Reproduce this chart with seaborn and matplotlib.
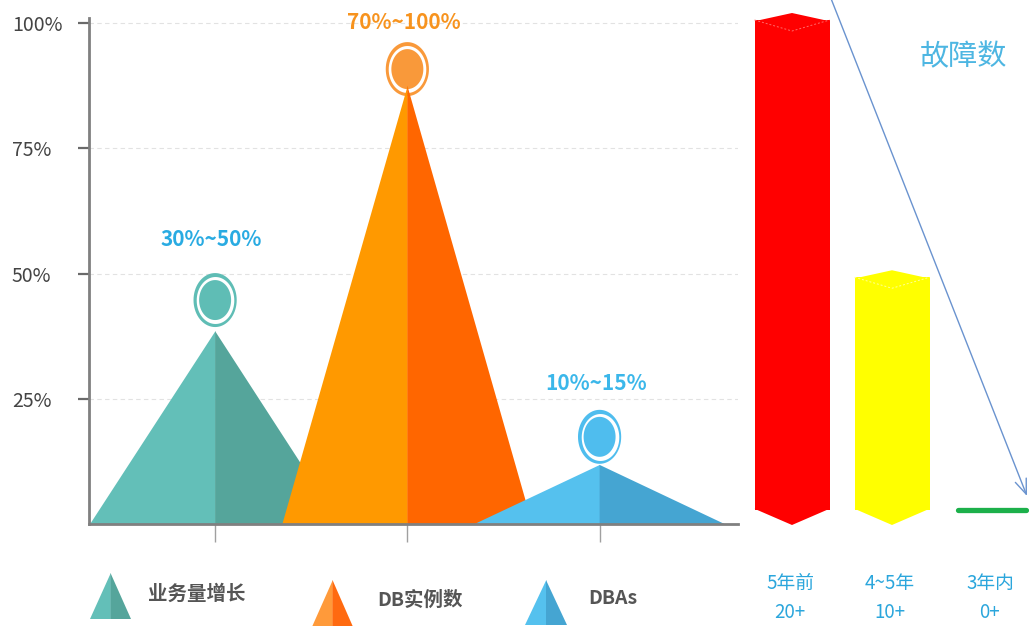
import numpy as np
import pandas as pd
import matplotlib
matplotlib.use("Agg")
import matplotlib.pyplot as plt
from matplotlib.path import Path
import seaborn as sns

# ---------------- data ----------------
categories = ["业务量增长", "DB实例数", "DBAs"]
peak_values = [38.5, 87.5, 11.8]          # triangle peaks (%)
marker_values = [44.7, 90.8, 17.4]        # circle badge positions (%)
range_labels = ["30%~50%", "70%~100%", "10%~15%"]
range_label_y = [56.7, 100.2, 28.1]
y_ticks = [25, 50, 75, 100]
y_tick_labels = ["25%", "50%", "75%", "100%"]

fault_periods = ["5年前", "4~5年", "3年内"]
fault_labels = ["20+", "10+", "0+"]
fault_values = [20, 9.5, 0]
fault_title = "故障数"

# ---------------- style ----------------
sns.set_theme(style="white")
plt.rcParams["font.family"] = ["Noto Sans CJK SC", "DejaVu Sans"]

light = ["#63bfb8", "#ff9900", "#55c1ee"]
dark = ["#55a59b", "#ff6600", "#45a5d2"]
ring_cols = ["#5fbdb5", "#f9993a", "#4fbdee"]
label_cols = ["#29abe2", "#f7931e", "#3bb7ea"]
legend_light = ["#63bfb8", "#ff9a3a", "#55c1ee"]
legend_dark = ["#55a59b", "#ff6a10", "#45a5d2"]
bar_cols = ["#ff0000", "#ffff00", "#1cb04b"]
cap_line_cols = ["#ff6a6a", "#ffff99", "#1cb04b"]

W, H = 1029, 626
fig = plt.figure(figsize=(W / 100, H / 100), dpi=100)
fig.patch.set_facecolor("white")

# ---------------- main (triangle) axes ----------------
ax = fig.add_axes([89 / W, (H - 524) / H, (738 - 89) / W, (524 - 18) / H])
ax.set_xlim(-0.656, 2.72)
ax.set_ylim(0, 101)
half = 0.65
x_pos = np.arange(len(categories))
for i, (x, p) in enumerate(zip(x_pos, peak_values)):
    ax.fill([x - half, x + 0.002, x + 0.002], [0, p, 0], color=light[i], lw=0, zorder=2 + i)
    ax.fill([x, x + half, x], [0, 0, p], color=dark[i], lw=0, zorder=2 + i)

# badges (elliptical rings), drawn just beneath the triangle tips
t = np.linspace(0, 2 * np.pi, 73)
ell = Path(np.column_stack([0.8 * np.cos(t), np.sin(t)]), closed=True)
df = pd.DataFrame({"x": x_pos, "y": marker_values, "cat": categories})
sns.scatterplot(data=df, x="x", y="y", hue="cat", hue_order=categories, palette=ring_cols,
                marker=ell, s=1512, linewidth=0, legend=False, ax=ax, zorder=1.5)
sns.scatterplot(data=df, x="x", y="y", color="white",
                marker=ell, s=1145, linewidth=0, legend=False, ax=ax, zorder=1.6)
sns.scatterplot(data=df, x="x", y="y", hue="cat", hue_order=categories, palette=ring_cols,
                marker=ell, s=829, linewidth=0, legend=False, ax=ax, zorder=1.7)

for i, x in enumerate(x_pos):
    ax.text(x - 0.02, range_label_y[i], range_labels[i], ha="center", va="center",
            color=label_cols[i], fontsize=15, fontweight="bold", zorder=13)

ax.set_xlabel("")
ax.set_ylabel("")
ax.set_yticks(y_ticks, y_tick_labels)
ax.set_xticks(x_pos, ["", "", ""])
ax.yaxis.grid(True, linestyle=(0, (4, 3)), color="#e2e2e2", lw=0.8)
ax.xaxis.grid(False)
ax.set_axisbelow(True)
for s in ["top", "right"]:
    ax.spines[s].set_visible(False)
for s in ["left", "bottom"]:
    ax.spines[s].set_color("#808080")
    ax.spines[s].set_linewidth(2)
    ax.spines[s].set_zorder(20)
ax.tick_params(axis="y", length=8, width=1.6, color="#6a6a6a", pad=47.5,
               labelsize=14, labelcolor="#444444", left=True)
for lab in ax.get_yticklabels():
    lab.set_horizontalalignment("left")
ax.tick_params(axis="x", length=13, width=1, color="#a0a0a0", bottom=True)
ax.patch.set_alpha(0)

# ---------------- right (fault bars) axes ----------------
k = 24.5
rax = fig.add_axes([740 / W, (H - 526) / H, 289 / W, 526 / H])
bw = 0.75
sns.barplot(x=fault_periods, y=fault_values, hue=fault_periods, palette=bar_cols,
            width=bw, saturation=1, linewidth=0, legend=False, ax=rax, zorder=2)
rax.set_xlim(-0.52, 2.37)
rax.set_ylim(-16 / k, 510 / k)
rax.axis("off")
for i, v in enumerate(fault_values):
    if v > 0:
        # top face and pointed bottom
        rax.fill([i - bw / 2, i, i + bw / 2], [v - 0.05, v + 7 / k, v - 0.05],
                 color=bar_cols[i], lw=0, zorder=3)
        rax.fill([i - bw / 2, i, i + bw / 2], [0.05, -15 / k, 0.05],
                 color=bar_cols[i], lw=0, zorder=3)
        rax.plot([i - bw / 2, i, i + bw / 2], [v, v - 11 / k, v], color=cap_line_cols[i],
                 lw=0.7, ls=(0, (2, 2)), zorder=4)
    else:
        rax.plot([i - 0.34, i + 0.34], [0, 0], color=bar_cols[i], lw=3.8,
                 solid_capstyle="round", zorder=4)
    rax.text(i - 0.02, (510 - 583) / k, fault_periods[i], ha="center", va="center",
             fontsize=13.5, color="#2ba6dc")
    rax.text(i - 0.02, (510 - 612) / k, fault_labels[i], ha="center", va="center",
             fontsize=13.5, color="#2ba6dc")

# ---------------- overlay: arrow, title, legend ----------------
oax = fig.add_axes([0, 0, 1, 1])
oax.set_xlim(0, W)
oax.set_ylim(H, 0)
oax.axis("off")
oax.annotate("", xy=(1027, 496), xytext=(830, -4),
             arrowprops=dict(arrowstyle="->,head_length=0.9,head_width=0.35",
                             color="#6a93cf", lw=1.0, shrinkA=0, shrinkB=0))
oax.text(963, 57, fault_title, ha="center", va="center", fontsize=21, color="#4db6e2")

legend_icons = [(110.5, 573, 619, 20.5), (332.5, 580, 628, 21), (546, 580, 625, 21)]
legend_text_pos = [(148, 594), (377, 600), (588, 598)]
for i, (cx, top, bot, hw) in enumerate(legend_icons):
    oax.fill([cx - hw, cx + 0.3, cx + 0.3], [bot, top, bot], color=legend_light[i], lw=0)
    oax.fill([cx, cx + hw, cx], [bot, bot, top], color=legend_dark[i], lw=0)
    tx, ty = legend_text_pos[i]
    oax.text(tx, ty, categories[i], ha="left", va="center", fontsize=14,
             fontweight="bold", color="#555555")

fig.savefig("out.png", dpi=100, facecolor="white")
